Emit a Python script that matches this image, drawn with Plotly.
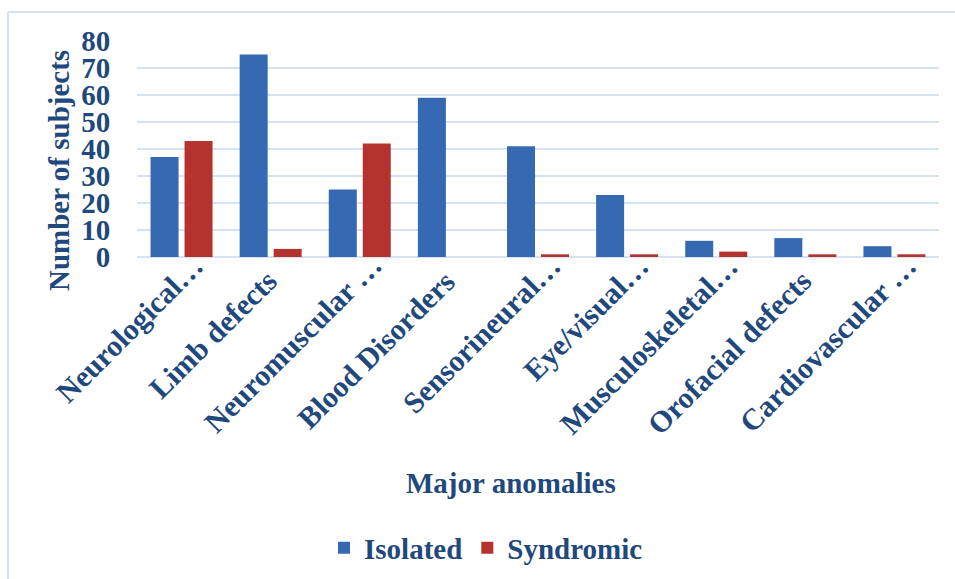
import plotly.graph_objects as go

categories = [
    "Neurological…", "Limb defects", "Neuromuscular …", "Blood Disorders",
    "Sensorineural…", "Eye/visual…", "Musculoskeletal…", "Orofacial defects",
    "Cardiovascular …",
]
isolated = [37, 75, 25, 59, 41, 23, 6, 7, 4]
syndromic = [43, 3, 42, 0, 1, 1, 2, 1, 1]
y_ticks = [0, 10, 20, 30, 40, 50, 60, 70, 80]

TEXT = "#1F497D"
GRID = "#D6E2F2"
FONT = "Liberation Serif"

W, H = 955, 579
L, R, T, B = 137, 16, 41, 322
pw, ph = W - L - R, H - T - B


def px_x(x):
    return (x - L) / pw


def px_y(y):
    return (H - B - y) / ph


fig = go.Figure()
fig.add_bar(name="Isolated", x=categories, y=isolated,
            marker=dict(color="#3569B2", line=dict(width=0)))
fig.add_bar(name="Syndromic", x=categories, y=syndromic,
            marker=dict(color="#B5332F", line=dict(width=0)))

# Rotated category labels; labels that are not cut short get a little
# trailing padding so that all of them sit on the same diagonal.
label_annotations = []
for i, cat in enumerate(categories):
    text = cat if cat.endswith("…") else cat + "\u00a0" * 3
    label_annotations.append(dict(
        text="<b>" + text + "</b>", x=i, y=0, xref="x", yref="y",
        showarrow=False, textangle=-45, xanchor="right", yanchor="top",
        xshift=31, yshift=11,
        font=dict(family=FONT, size=30, color=TEXT),
    ))

fig.update_layout(
    width=W, height=H,
    margin=dict(l=L, r=R, t=T, b=B, autoexpand=False),
    paper_bgcolor="white", plot_bgcolor="white",
    barmode="group", bargap=0.237, bargroupgap=0.176,
    font=dict(family=FONT, color=TEXT, size=29),
    showlegend=True,
    legend=dict(orientation="h", x=px_x(486), y=px_y(548),
                xanchor="center", yanchor="middle",
                font=dict(family=FONT, size=29, color=TEXT, weight="bold"),
                itemwidth=30, tracegroupgap=0, bgcolor="rgba(0,0,0,0)"),
    xaxis=dict(
        type="category", categoryorder="array", categoryarray=categories,
        range=[-0.5, len(categories) - 0.5],
        showticklabels=False, showgrid=False, showline=False, zeroline=False,
        ticks="",
    ),
    yaxis=dict(
        range=[0, 80], tickvals=y_ticks, showgrid=True, gridcolor=GRID,
        gridwidth=2, zeroline=True, zerolinecolor=GRID, zerolinewidth=2,
        showline=False,
        tickfont=dict(family=FONT, size=29, color=TEXT, weight="bold"),
        ticks="outside", ticklen=20, tickcolor="rgba(0,0,0,0)",
    ),
    annotations=label_annotations + [
        dict(text="<b>Major anomalies</b>", x=px_x(511), y=px_y(483),
             xref="paper", yref="paper", showarrow=False,
             xanchor="center", yanchor="middle",
             font=dict(family=FONT, size=29, color=TEXT)),
        dict(text="<b>Number of subjects</b>", x=px_x(59), y=px_y(171),
             xref="paper", yref="paper", showarrow=False, textangle=-90,
             xanchor="center", yanchor="middle",
             font=dict(family=FONT, size=29, color=TEXT)),
    ],
    shapes=[
        dict(type="line", xref="paper", yref="paper",
             x0=px_x(8), x1=px_x(955), y0=px_y(12), y1=px_y(12),
             line=dict(color=GRID, width=2)),
        dict(type="line", xref="paper", yref="paper",
             x0=px_x(8), x1=px_x(8), y0=px_y(12), y1=px_y(579),
             line=dict(color=GRID, width=2)),
    ],
)

fig.write_html("out.html")
